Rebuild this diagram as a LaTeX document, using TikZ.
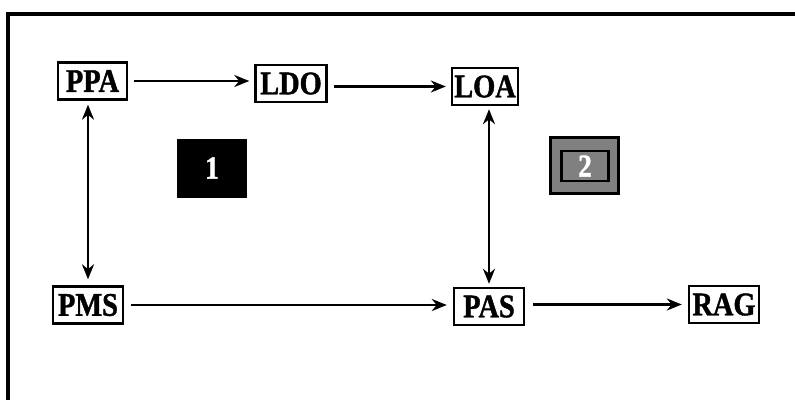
\documentclass[tikz,border=0pt]{standalone}
\usepackage{fontspec}
\setmainfont{Liberation Serif}[FakeStretch=0.86, BoldFeatures={FakeBold=1.2}]
\usetikzlibrary{arrows.meta}
\definecolor{midgray}{RGB}{128,128,128}
\tikzset{
  lbl/.style={draw=black, line width=2.4pt, inner sep=0pt, minimum width=70pt, minimum height=37pt,
    font=\fontsize{33}{33}\selectfont\bfseries, fill=white},
  arr/.style={line width=2.6pt, -{Stealth[length=15pt,width=12pt]}},
  darr/.style={line width=2.6pt, {Stealth[length=15pt,width=12pt]}-{Stealth[length=15pt,width=12pt]}},
}
\begin{document}
\begin{tikzpicture}[x=1pt,y=1pt]
\useasboundingbox (0,0) rectangle (795,-399);
\draw[line width=3.5pt] (8,-400) -- (8,-14) -- (796,-14);
\node[lbl, minimum width=69pt] (PPA) at (92.5,-81) {PPA};
\node[lbl, minimum width=71pt] (LDO) at (291,-83.5) {LDO};
\node[lbl, minimum width=66pt] (LOA) at (485,-86.5) {LOA};
\node[lbl] (PMS) at (88,-305) {PMS};
\node[lbl] (PAS) at (489,-306.5) {PAS};
\node[lbl] (RAG) at (724,-304.5) {RAG};
\node[fill=black, draw=black, minimum width=69pt, minimum height=58pt, inner sep=0pt,
  text=white, font=\fontsize{32}{32}\selectfont\bfseries] (B1) at (212,-168) {1};
\node[fill=midgray, draw=black, line width=2.4pt, minimum width=68pt, minimum height=56pt, inner sep=0pt] (B2) at (584.5,-165.5) {};
\node[fill=midgray, draw=black, line width=2.4pt, minimum width=47pt, minimum height=30pt, inner sep=0pt,
  text=white, font=\fontsize{32}{32}\selectfont\bfseries] (B2in) at (585,-166) {2};
\draw[arr, shorten <=6pt, shorten >=5pt] (PPA.east) -- (PPA.east -| LDO.west);
\draw[arr, shorten <=6pt, shorten >=5pt] (LDO.east |- LOA.west) -- (LOA.west);
\draw[darr, shorten <=4pt, shorten >=6pt] (PPA.south -| PMS.north) -- (PMS.north);
\draw[darr, shorten <=3pt, shorten >=3pt] (LOA.south -| PAS.north) -- (PAS.north);
\draw[arr, shorten <=7pt, shorten >=6pt] (PMS.east) -- (PMS.east -| PAS.west);
\draw[arr, shorten <=8pt, shorten >=6pt] (PAS.east |- RAG.west) -- (RAG.west);
\end{tikzpicture}
\end{document}
